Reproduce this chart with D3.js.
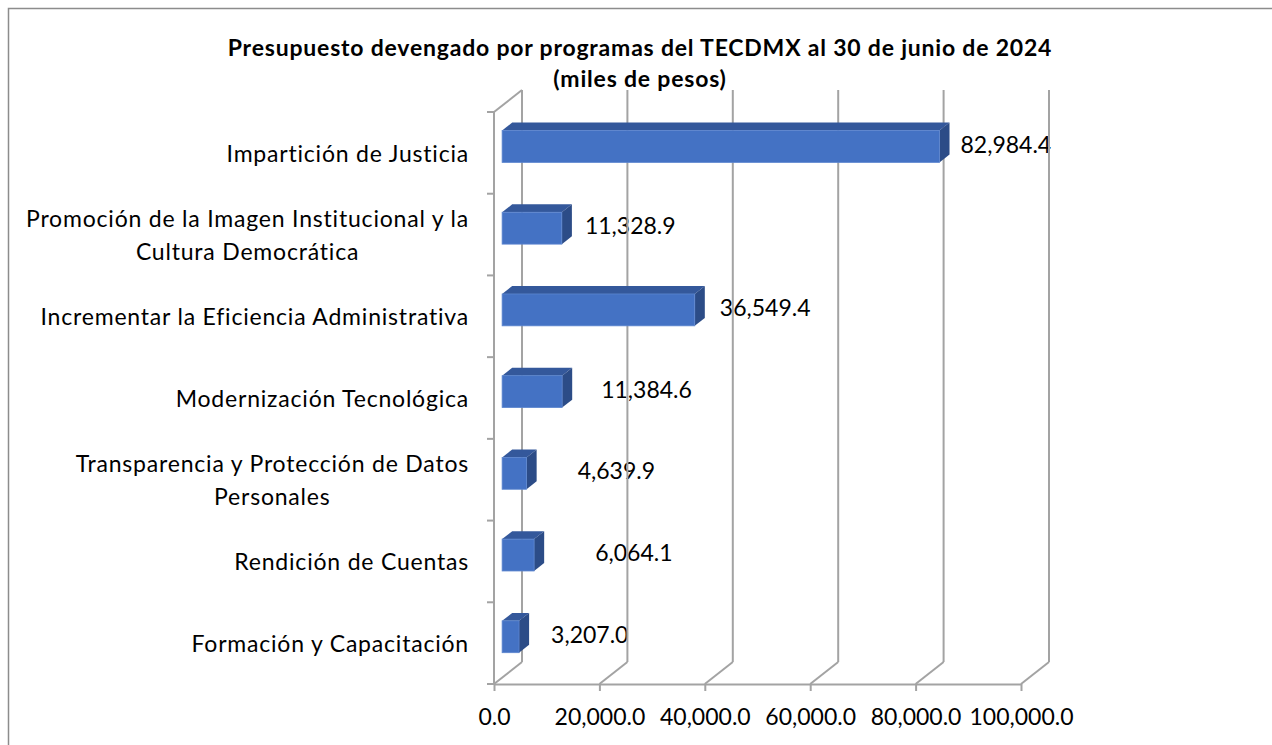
<!DOCTYPE html>
<html><head><meta charset="utf-8">
<script src="https://cdn.jsdelivr.net/npm/d3@7"></script>
<style>body{margin:0;background:#fff}svg{display:block}</style>
</head><body>
<svg id="c" width="1272" height="745"></svg>
<script>
const categories = [
  "Impartición de Justicia",
  "Promoción de la Imagen Institucional y la|Cultura Democrática",
  "Incrementar la Eficiencia Administrativa",
  "Modernización Tecnológica",
  "Transparencia y Protección de Datos|Personales",
  "Rendición de Cuentas",
  "Formación y Capacitación"
];
const values = [82984.4, 11328.9, 36549.4, 11384.6, 4639.9, 6064.1, 3207.0];
const xTicks = [0, 20000, 40000, 60000, 80000, 100000];
const titleLines = ["Presupuesto devengado por programas del TECDMX al 30 de junio de 2024", "(miles de pesos)"];
// label horizontal gaps (layout, px)
const labelGap = [11, 13, 15, 29, 41, 51, 22];

(function () {
const svg = d3.select("#c");
const FONT = "Lato, 'Liberation Sans', sans-serif";
const grid = "#a3a3a3";
const DX = 28, DY = -22;
const x = d3.scaleLinear().domain([0, 100000]).range([494, 1021]);
const y = d3.scaleBand().domain(categories).range([112, 684]);
const fmt = d3.format(",.1f");

svg.append("rect").attr("x", 8.5).attr("y", 8.5).attr("width", 1300).attr("height", 800)
  .attr("fill", "none").attr("stroke", "#8c8c8c").attr("stroke-width", 1.5);

titleLines.forEach((t, i) => {
  svg.append("text").attr("x", 640).attr("y", 56 + i * 31).attr("text-anchor", "middle")
    .attr("font-family", FONT).attr("font-weight", "bold").attr("font-size", 23)
    .attr("letter-spacing", 0.8).attr("fill", "#000").text(t);
});

const fs = 23;
const barFrontT = 0.29, barBackT = 0.65;
const bh = y.bandwidth() * 0.39;
svg.append("g").selectAll("text").data(categories).join("text")
  .attr("x", (c, i) => x(values[i]) + DX * barBackT + labelGap[i])
  .attr("y", c => y(c) + y.bandwidth() / 2 + DY * barFrontT - 2)
  .attr("dy", "0.35em")
  .attr("font-family", FONT).attr("font-size", fs).attr("fill", "#000")
  .text((c, i) => fmt(values[i]));

const g = svg.append("g").attr("stroke", grid).attr("stroke-width", 2).attr("fill", "none");
const yTop = y.range()[0], yBot = y.range()[1];
g.selectAll("line.gv").data(xTicks).join("line").attr("class", "gv")
  .attr("x1", d => x(d) + DX).attr("x2", d => x(d) + DX)
  .attr("y1", yTop + DY).attr("y2", yBot + DY);
g.selectAll("line.fd").data(xTicks).join("line").attr("class", "fd")
  .attr("x1", d => x(d)).attr("x2", d => x(d) + DX)
  .attr("y1", yBot).attr("y2", yBot + DY);
g.append("line").attr("x1", x(0)).attr("x2", x(0)).attr("y1", yTop).attr("y2", yBot);
g.append("line").attr("x1", x(0)).attr("x2", x(0) + DX).attr("y1", yTop).attr("y2", yTop + DY);

const xAxis = svg.append("g").attr("transform", `translate(0,${yBot})`)
  .call(d3.axisBottom(x).tickValues(xTicks).tickSize(7).tickSizeOuter(0).tickPadding(18).tickFormat(fmt));
xAxis.selectAll("path,line").attr("stroke", grid).attr("stroke-width", 2);
xAxis.selectAll("text").attr("font-family", FONT).attr("font-size", fs).attr("fill", "#000");

const bounds = categories.map(c => y(c)).concat([yBot]);
g.selectAll("line.lt").data(bounds).join("line").attr("class", "lt")
  .attr("x1", x(0) - 7).attr("x2", x(0)).attr("y1", d => d).attr("y2", d => d);

const lab = svg.append("g");
categories.forEach((c, i) => {
  const lines = c.split("|");
  const cy = y(c) + y.bandwidth() / 2 + 1;
  const lh = 33;
  const t = lab.append("text").attr("font-family", FONT).attr("font-size", fs).attr("fill", "#000")
    .attr("letter-spacing", 0.8).attr("text-anchor", "middle");
  lines.forEach((ln, k) => {
    t.append("tspan").attr("x", 0).attr("y", cy + (k - (lines.length - 1) / 2) * lh).attr("dy", "0.35em").text(ln);
  });
  const w = t.node().getBBox().width;
  t.selectAll("tspan").attr("x", 469 - w / 2);
});

const bars = svg.append("g");
const fx = DX * barFrontT, fy = DY * barFrontT;
const bx = DX * (barBackT - barFrontT), by = DY * (barBackT - barFrontT);
categories.forEach((c, i) => {
  const x0 = x(0) + fx, x1 = x(values[i]) + fx;
  const y0 = y(c) + y.bandwidth() / 2 - bh / 2 + fy, y1 = y0 + bh;
  bars.append("path").attr("d", `M${x0},${y0}L${x0 + bx},${y0 + by}L${x1 + bx},${y0 + by}L${x1},${y0}Z`)
    .attr("fill", "#34589b");
  bars.append("path").attr("d", `M${x1},${y0}L${x1 + bx},${y0 + by}L${x1 + bx},${y1 + by}L${x1},${y1}Z`)
    .attr("fill", "#2c4c87");
  bars.append("rect").attr("x", x0).attr("y", y0).attr("width", x1 - x0).attr("height", bh)
    .attr("fill", "#4472c4").attr("stroke", "#5d86cf").attr("stroke-width", 0.8);
});
})();
</script>
</body></html>
